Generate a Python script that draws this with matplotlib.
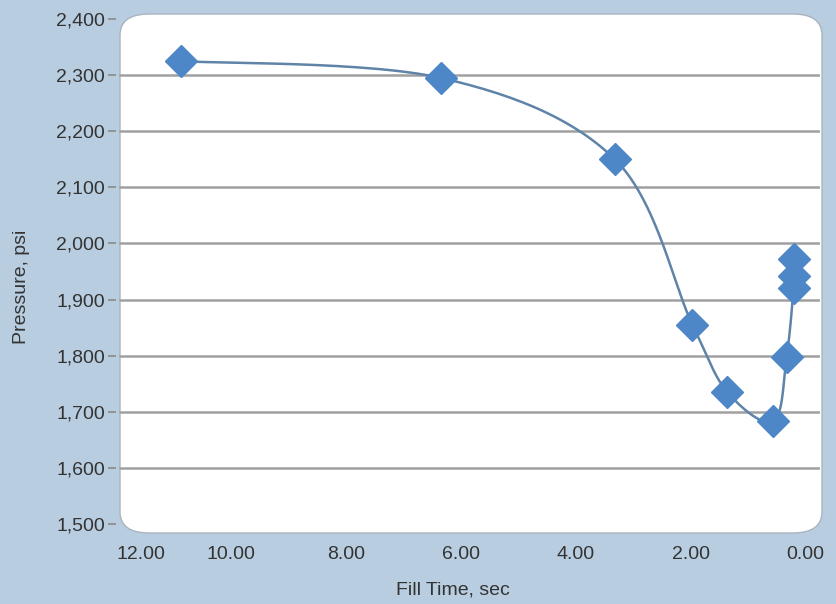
import matplotlib
matplotlib.use("Agg")
import matplotlib.pyplot as plt
import numpy as np
from matplotlib.patches import FancyBboxPatch

plt.rcParams['font.family'] = ['Liberation Sans', 'DejaVu Sans']

# data
fill_time = [10.87, 6.35, 3.32, 1.97, 1.36, 0.56, 0.33, 0.21, 0.21, 0.20]
pressure = [2325, 2295, 2150, 1855, 1735, 1683, 1798, 1920, 1942, 1972]
x_ticks = [12, 10, 8, 6, 4, 2, 0]
y_ticks = [1500, 1600, 1700, 1800, 1900, 2000, 2100, 2200, 2300, 2400]


def smooth(xs, ys, n=30):
    # catmull-rom through the points, like Excel's smoothed line
    p = np.column_stack([xs, ys]).astype(float)
    p = np.vstack([p[0], p, p[-1]])
    out = []
    for i in range(1, len(p) - 2):
        p0, p1, p2, p3 = p[i - 1], p[i], p[i + 1], p[i + 2]
        t = np.linspace(0, 1, n)[:, None]
        seg = 0.5 * ((2 * p1) + (-p0 + p2) * t + (2 * p0 - 5 * p1 + 4 * p2 - p3) * t ** 2
                     + (-p0 + 3 * p1 - 3 * p2 + p3) * t ** 3)
        out.append(seg)
    out = np.vstack(out)
    return out[:, 0], out[:, 1]


bg = '#b8cde0'
txt = '#333333'
fig = plt.figure(figsize=(8.37, 6.04), dpi=100, facecolor=bg)

W, H = 837, 604
left, right, top, bottom = 116, 820, 19, 524
ax = fig.add_axes([left / W, 1 - bottom / H, (right - left) / W, (bottom - top) / H])
ax.set_facecolor('none')
ax.set_zorder(2)

box = FancyBboxPatch((120 / W, 1 - 533 / H), (822 - 120) / W, (533 - 14) / H,
                     boxstyle="round,pad=0,rounding_size=0.035", transform=fig.transFigure,
                     facecolor='white', edgecolor='#a9b4bf', linewidth=1.0, zorder=0)
fig.patches.append(box)

ax.set_xlim(12, -0.25)
ax.set_ylim(1500, 2400)

for y in y_ticks[1:-1]:
    ax.axhline(y, xmin=4 / (right - left), color='#a0a0a0', linewidth=1.8, zorder=1)

sx, sy = smooth(fill_time, pressure)
ax.plot(sx, sy, color='#6083a8', linewidth=1.8, zorder=2)
ax.plot(fill_time, pressure, linestyle='none', marker='D', markersize=16,
        color='#4d87c7', markeredgecolor='#4d87c7', zorder=3, clip_on=False)

for s in ax.spines.values():
    s.set_visible(False)

ax.set_yticks(y_ticks)
ax.set_yticklabels([f"{v:,}" for v in y_ticks])
ax.set_xticks(x_ticks)
ax.set_xticklabels([f"{v:.2f}" for v in x_ticks])
ax.tick_params(axis='y', length=6, width=1.2, color='#8a8a8a', labelsize=14,
               labelcolor=txt, pad=2)
ax.tick_params(axis='x', length=0, labelsize=14, labelcolor=txt, pad=16)
ax.get_xticklabels()[0].set_horizontalalignment('left')

ax.set_ylabel('Pressure, psi', fontsize=14, color=txt)
ax.set_xlabel('Fill Time, sec', fontsize=14, color=txt)
ax.yaxis.set_label_coords(-0.122, 0.47)
ax.xaxis.set_label_coords(0.479, -0.113)

fig.savefig('out.png', dpi=100, facecolor=bg)
